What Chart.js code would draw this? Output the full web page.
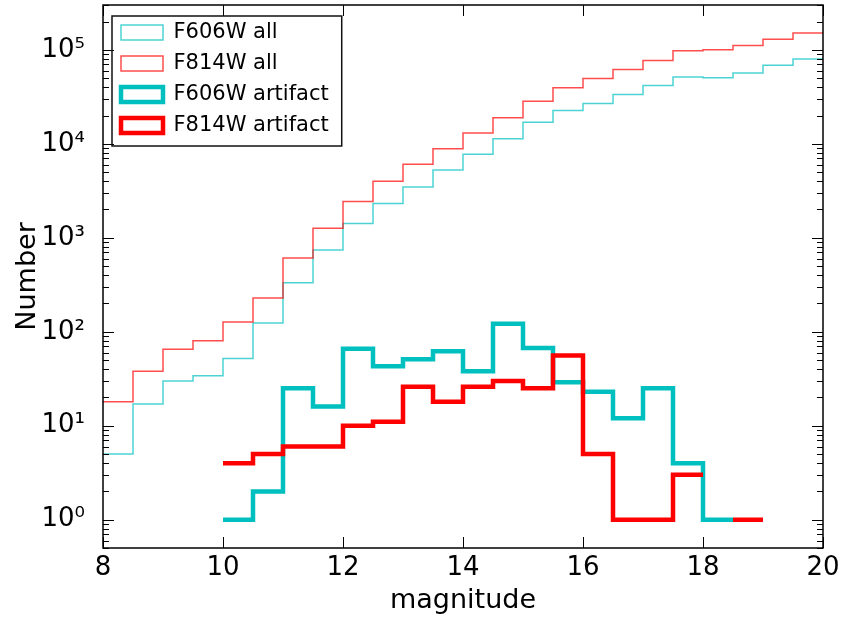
<!DOCTYPE html>
<html>
<head>
<meta charset="utf-8">
<script src="https://cdn.jsdelivr.net/npm/chart.js@4.4.1/dist/chart.umd.min.js"></script>
<style>
  html, body { margin: 0; padding: 0; background: #fff; }
  canvas { display: block; }
</style>
</head>
<body>
<canvas id="hist" width="842" height="617"></canvas>
<script>
// bin edges (magnitude), 0.5 wide
const binEdges = [8.0, 8.5, 9.0, 9.5, 10.0, 10.5, 11.0, 11.5, 12.0, 12.5, 13.0, 13.5,
                  14.0, 14.5, 15.0, 15.5, 16.0, 16.5, 17.0, 17.5, 18.0, 18.5, 19.0, 19.5, 20.0];

// counts per bin (one value per bin starting at binEdges[i])
const f606wAll = [5, 17, 30, 34, 52, 124, 332, 742, 1420, 2320, 3480, 5280,
                  7740, 11300, 17000, 22600, 26900, 33500, 41700, 51500, 50500, 56800, 68500, 80000];
const f814wAll = [18, 38, 65, 80, 127, 228, 611, 1260, 2430, 4000, 6060, 8870,
                  13000, 18900, 28400, 39400, 49500, 61700, 76800, 98000, 100500, 111000, 130000, 151000];
const f606wArtifact = [0, 0, 0, 0, 1, 2, 25, 16, 66, 43, 51, 62,
                       38, 122, 67, 29, 23, 12, 25, 4, 1, 0, 0, 0];
const f814wArtifact = [0, 0, 0, 0, 4, 5, 6, 6, 10, 11, 26, 18,
                       26, 30, 25, 56, 5, 1, 1, 3, 0, 1, 0, 0];

const seriesLabels = ["F606W all", "F814W all", "F606W artifact", "F814W artifact"];

const xTickValues = [8, 10, 12, 14, 16, 18, 20];
const yTickValues = [1, 10, 100, 1000, 10000, 100000];
const yTickLabels = ["10⁰", "10¹", "10²", "10³", "10⁴", "10⁵"];

const CYAN = "rgb(0,191,191)";
const RED = "rgb(255,0,0)";

Chart.defaults.font.family = "'DejaVu Sans', sans-serif";
Chart.defaults.color = "#000";

// step outline of a histogram, empty bins leave a gap
function stepPoints(counts) {
  const pts = [];
  counts.forEach((c, i) => {
    if (c <= 0) return;
    pts.push({ x: binEdges[i], y: c });
    const next = counts[i + 1];
    if (!(next > 0)) {
      pts.push({ x: binEdges[i + 1], y: c });
      pts.push({ x: binEdges[i + 1], y: null });
    }
  });
  return pts;
}

function histSet(label, counts, color, width, order) {
  return {
    label: label,
    data: stepPoints(counts),
    stepped: "before",
    borderColor: color,
    backgroundColor: "#fff",
    borderWidth: width,
    borderJoinStyle: "miter",
    pointRadius: 0,
    fill: false,
    order: order
  };
}

// no extra room for end labels, the frame is fixed
function noEdgePadding(axis) {
  axis.paddingTop = 0;
  axis.paddingBottom = 0;
  axis.paddingLeft = 0;
  axis.paddingRight = 0;
}

// inward ticks, axes frame and legend frame
const frameTicks = {
  id: "frameTicks",
  afterLayout(chart) {
    const a = chart.chartArea;
    chart.legend.left = a.left + 8;
    chart.legend.top = a.top + 7;
    chart.legend.bottom = a.bottom;
  },
  afterDraw(chart) {
    const { ctx, chartArea: a, scales } = chart;
    const x = scales.x, y = scales.y;
    ctx.save();
    ctx.strokeStyle = "#000";
    ctx.lineWidth = 1;
    const seg = (x0, y0, x1, y1) => {
      ctx.beginPath(); ctx.moveTo(x0, y0); ctx.lineTo(x1, y1); ctx.stroke();
    };
    xTickValues.forEach(v => {
      const px = Math.round(x.getPixelForValue(v)) + 0.5;
      seg(px, a.bottom, px, a.bottom - 11);
      seg(px, a.top, px, a.top + 11);
    });
    for (let k = -1; k <= 5; k++) {
      for (let m = 1; m <= 9; m++) {
        const v = m * Math.pow(10, k);
        if (v < y.min || v > y.max) continue;
        const len = m === 1 ? 11 : 6;
        const py = Math.round(y.getPixelForValue(v)) + 0.5;
        seg(a.left, py, a.left + len, py);
        seg(a.right, py, a.right - len, py);
      }
    }
    ctx.lineWidth = 1.5;
    ctx.strokeRect(a.left, a.top, a.right - a.left, a.bottom - a.top);

    // legend frame
    const lg = chart.legend;
    const lo = lg.options.labels;
    ctx.font = "21px 'DejaVu Sans'";
    const maxText = Math.max(...seriesLabels.map(s => ctx.measureText(s).width));
    const fx0 = lg.left + 1;
    const fy0 = lg.top + 4;
    const fx1 = lg.left + lo.padding + lo.boxWidth + 10.5 + maxText + 13;
    const fy1 = lg.top + lo.padding + 3 * (21 + lo.padding) + 21 + 10;
    ctx.lineWidth = 1.5;
    ctx.strokeStyle = "#111";
    ctx.strokeRect(fx0, fy0, fx1 - fx0, fy1 - fy0);
    ctx.restore();
  }
};

new Chart(document.getElementById("hist"), {
  type: "line",
  data: {
    datasets: [
      histSet(seriesLabels[0], f606wAll, "rgba(0,191,191,0.7)", 1.5, 3),
      histSet(seriesLabels[1], f814wAll, "rgba(255,0,0,0.7)", 1.5, 2),
      histSet(seriesLabels[2], f606wArtifact, CYAN, 4.5, 1),
      histSet(seriesLabels[3], f814wArtifact, RED, 4.5, 0)
    ]
  },
  options: {
    responsive: false,
    animation: false,
    layout: { padding: { left: 0, right: 19, top: 5, bottom: 0 } },
    scales: {
      x: {
        type: "linear",
        min: 8,
        max: 20,
        afterFit: (axis) => { axis.height = 69; noEdgePadding(axis); },
        afterBuildTicks: (axis) => { axis.ticks = xTickValues.map(v => ({ value: v })); },
        grid: { display: false },
        border: { display: false },
        ticks: { font: { size: 26 }, padding: -3, maxRotation: 0, autoSkip: false },
        title: { display: true, text: "magnitude", font: { size: 27 }, padding: { top: 0, bottom: 0 } }
      },
      y: {
        type: "logarithmic",
        min: 0.5,
        max: 300000,
        afterFit: (axis) => { axis.width = 103; noEdgePadding(axis); },
        afterBuildTicks: (axis) => { axis.ticks = yTickValues.map(v => ({ value: v })); },
        grid: { display: false },
        border: { display: false },
        ticks: {
          font: { size: 26 },
          padding: 10,
          callback: (v) => {
            const i = yTickValues.indexOf(v);
            return i >= 0 ? yTickLabels[i] : "";
          }
        },
        title: { display: true, text: "Number", font: { size: 27 }, padding: { top: 12, bottom: 0 } }
      }
    },
    plugins: {
      tooltip: { enabled: false },
      legend: {
        position: "chartArea",
        align: "start",
        labels: {
          boxWidth: 42,
          boxHeight: 15,
          padding: 10,
          font: { size: 21 },
          color: "#000",
          generateLabels: (chart) => chart.data.datasets.map((ds, i) => ({
            text: ds.label,
            fillStyle: "#fff",
            strokeStyle: ds.borderColor,
            lineWidth: ds.borderWidth,
            hidden: false,
            datasetIndex: i
          }))
        }
      }
    }
  },
  plugins: [frameTicks]
});
</script>
</body>
</html>
